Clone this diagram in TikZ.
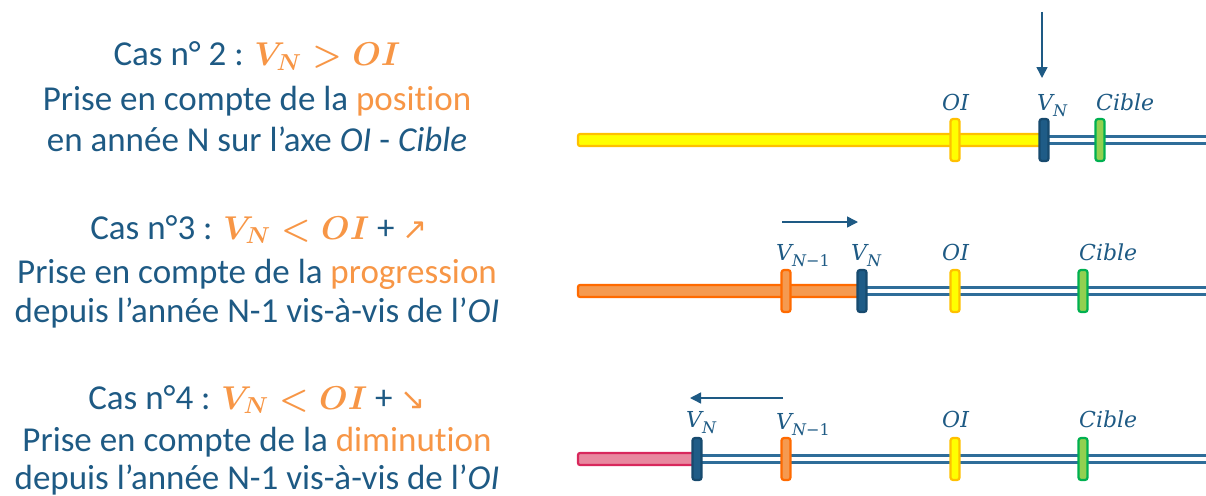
\documentclass[tikz,border=0pt]{standalone}
\usepackage{fix-cm}
\usepackage{fontspec}
\setmainfont{Carlito}[Ligatures=NoCommon]
\newfontfamily\symfont{DejaVu Sans}
\newfontfamily\lblfont{DejaVu Serif}
\usetikzlibrary{arrows.meta}
\definecolor{tblue}{HTML}{1E5A84}
\definecolor{torange}{HTML}{F79646}
\definecolor{lblue}{HTML}{2F6D99}
\definecolor{yfill}{HTML}{FFFF00}
\definecolor{ydraw}{HTML}{FFC000}
\definecolor{gfill}{HTML}{92D050}
\definecolor{gdraw}{HTML}{00B050}
\definecolor{ofill}{HTML}{F59A50}
\definecolor{odraw}{HTML}{FF6A00}
\definecolor{pfill}{HTML}{E8889F}
\definecolor{pdraw}{HTML}{D8285C}
\definecolor{vfill}{HTML}{1F5C87}
\definecolor{vdraw}{HTML}{174A6E}
\tikzset{
  txt/.style={text=tblue, font=\fontsize{35}{42}\selectfont, anchor=base, inner sep=0pt},
  lbl/.style={text=tblue, font=\lblfont\itshape\fontsize{22}{26}\selectfont, inner sep=0pt, anchor=base west},
  tickbox/.style={minimum width=9pt, minimum height=42pt, rounded corners=2.5pt, line width=2.2pt, inner sep=0pt},
  barbox/.style={rounded corners=2pt, line width=2.2pt},
  dbl/.style={draw=lblue, line width=2.4pt, double=white, double distance=4.5pt},
  arr/.style={draw=tblue, line width=1.5pt, -{Triangle[length=11pt,width=11pt]}},
}
\newcommand{\hl}[1]{{\color{torange}#1}}
\newcommand{\mth}[1]{{\color{torange}\fontsize{33}{40}\selectfont\boldmath$#1$}}
\newcommand{\sarr}[1]{{\color{torange}\symfont\fontsize{30}{30}\selectfont #1}}
\newcommand{\lsub}[1]{\raisebox{-6pt}{\fontsize{16}{16}\selectfont #1}}
\begin{document}
\begin{tikzpicture}[x=1pt,y=-1pt]
\useasboundingbox (0,0) rectangle (1206,495);
% ---------- left texts ----------
\node[txt] (c2a) at (257,66) {Cas n° 2 : \mth{V_N > OI}};
\node[txt] (c2b) at (257,110) {Prise en compte de la \hl{position}};
\node[txt] (c2c) at (257,151) {en année N sur l’axe \textit{OI} - \textit{Cible}};
\node[txt] (c3a) at (259,239) {Cas n°3 : \mth{V_N < OI} + \sarr{↗}};
\node[txt] (c3b) at (257,283) {Prise en compte de la \hl{progression}};
\node[txt] (c3c) at (257,322) {depuis l’année N-1 vis-à-vis de l’\textit{OI}};
\node[txt] (c4a) at (257,409) {Cas n°4 : \mth{V_N < OI} + \sarr{↘}};
\node[txt] (c4b) at (257,451) {Prise en compte de la \hl{diminution}};
\node[txt] (c4c) at (257,489) {depuis l’année N-1 vis-à-vis de l’\textit{OI}};
% ---------- row 1 ----------
\coordinate (r1e) at (1206,140);
\fill[draw=ydraw, fill=yfill, barbox] (578,134) rectangle (1044,146);
\draw[dbl] (1044,140) -- (r1e);
\node[tickbox, fill=yfill, draw=ydraw] (r1oi) at (955,140) {};
\node[tickbox, fill=vfill, draw=vdraw] (r1vn) at (1044,140) {};
\node[tickbox, fill=gfill, draw=gdraw] (r1ci) at (1100,140) {};
\node[lbl] (l1oi) at (942,110) {OI};
\node[lbl] (l1vn) at (1037,110) {V\lsub{N}};
\node[lbl] (l1ci) at (1096,110) {Cible};
\coordinate (a1s) at (1042,12);
\coordinate (a1e) at (1042,78);
\draw[arr] (a1s) -- (a1e);
% ---------- row 2 ----------
\coordinate (r2e) at (1206,291);
\fill[draw=odraw, fill=ofill, barbox] (578,285) rectangle (862,297);
\draw[dbl] (862,291) -- (r2e);
\node[tickbox, fill=ofill, draw=odraw] (r2vp) at (786,291) {};
\node[tickbox, fill=vfill, draw=vdraw] (r2vn) at (862,291) {};
\node[tickbox, fill=yfill, draw=ydraw] (r2oi) at (955,291) {};
\node[tickbox, fill=gfill, draw=gdraw] (r2ci) at (1083,291) {};
\node[lbl] (l2vp) at (776,260) {V\lsub{N−\upshape1}};
\node[lbl] (l2vn) at (851,260) {V\lsub{N}};
\node[lbl] (l2oi) at (942,260) {OI};
\node[lbl] (l2ci) at (1079,260) {Cible};
\coordinate (a2s) at (782,222);
\coordinate (a2e) at (858,222);
\draw[arr] (a2s) -- (a2e);
% ---------- row 3 ----------
\coordinate (r3e) at (1206,459);
\fill[draw=pdraw, fill=pfill, barbox] (578,453) rectangle (697,465);
\draw[dbl] (697,459) -- (r3e);
\node[tickbox, fill=vfill, draw=vdraw] (r3vn) at (697,459) {};
\node[tickbox, fill=ofill, draw=odraw] (r3vp) at (786,459) {};
\node[tickbox, fill=yfill, draw=ydraw] (r3oi) at (955,459) {};
\node[tickbox, fill=gfill, draw=gdraw] (r3ci) at (1083,459) {};
\node[lbl] (l3vn) at (686,427) {V\lsub{N}};
\node[lbl] (l3vp) at (776,429) {V\lsub{N−\upshape1}};
\node[lbl] (l3oi) at (942,427) {OI};
\node[lbl] (l3ci) at (1079,427) {Cible};
\coordinate (a3s) at (783,398);
\coordinate (a3e) at (690,398);
\draw[arr] (a3s) -- (a3e);
\end{tikzpicture}
\end{document}
